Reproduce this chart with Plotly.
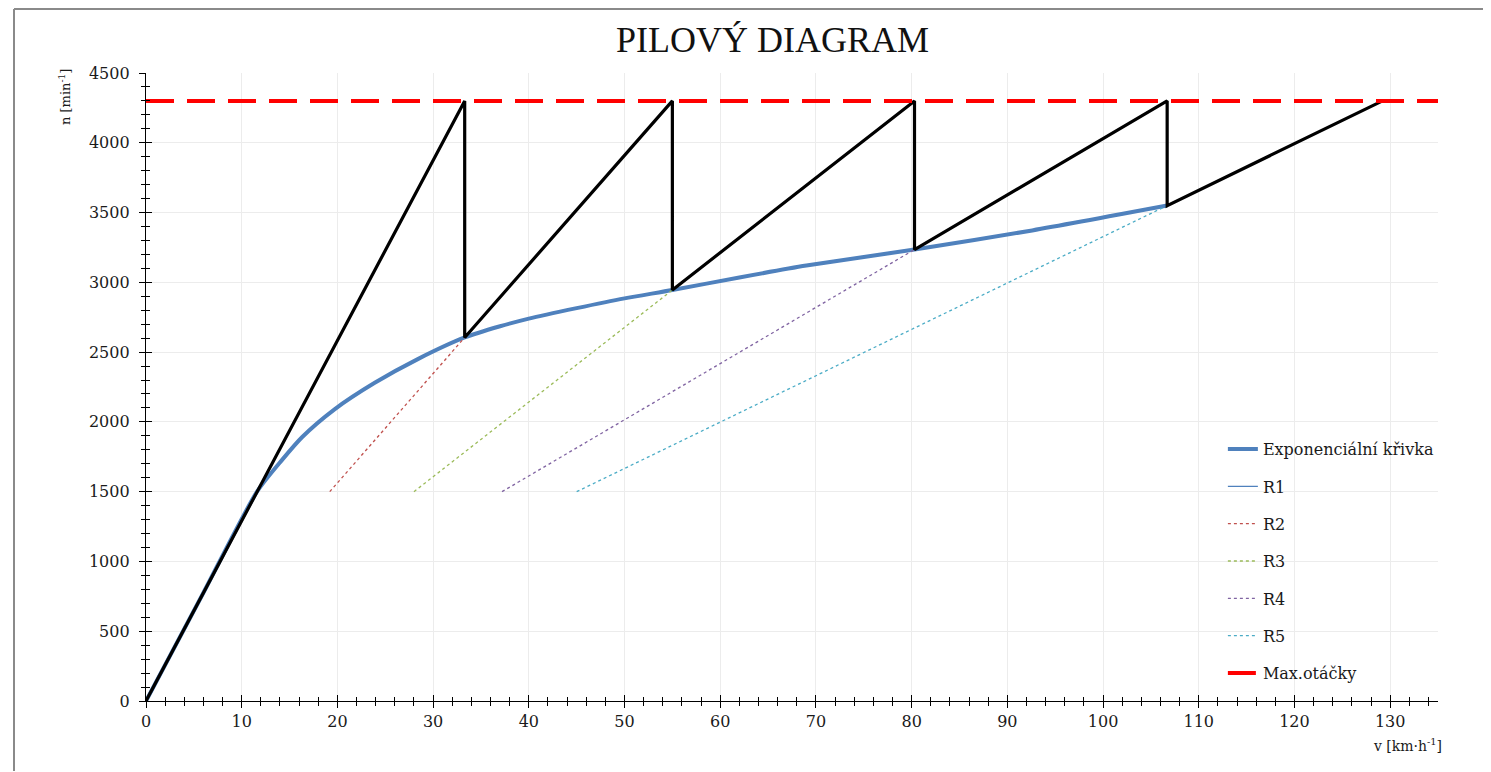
import plotly.graph_objects as go

# ---- data ----
exp_v = [0, 6.0, 11.6, 14.2, 16.3, 19.7, 23.9, 28.4, 33.3, 37.0, 40.0, 45.0, 50.0, 55.0, 62.0, 69.0, 80.3, 92.6, 106.7]
exp_n = [0, 776, 1500, 1726, 1890, 2090, 2280, 2450, 2605, 2685, 2740, 2815, 2885, 2945, 3035, 3120, 3235, 3372, 3550]

r1_v = [0, 11.6]
r1_n = [0, 1500]
r2_v = [19.2, 33.3]
r2_n = [1500, 2605]
r3_v = [28.0, 55.0]
r3_n = [1500, 2945]
r4_v = [37.2, 80.3]
r4_n = [1500, 3235]
r5_v = [45.0, 106.7]
r5_n = [1500, 3550]

saw_v = [0, 33.3, 33.3, 55.0, 55.0, 80.3, 80.3, 106.7, 106.7, 129.2]
saw_n = [0, 4300, 2605, 4300, 2945, 4300, 3235, 4300, 3550, 4300]

max_v = [0, 135]
max_n = [4300, 4300]

x_ticks = list(range(0, 140, 10))
y_ticks = list(range(0, 5000, 500))

FONT = "DejaVu Serif"

fig = go.Figure()

fig.add_trace(go.Scatter(x=exp_v, y=exp_n, mode="lines", name="Exponenciální křivka",
                         line=dict(color="#4F81BD", width=4, shape="spline", smoothing=0.7),
                         legendgroup="g0"))
fig.add_trace(go.Scatter(x=r1_v, y=r1_n, mode="lines", name="R1",
                         line=dict(color="#4F81BD", width=1.2), legendgroup="g1"))
dash_cols = ["#C0504D", "#9BBB59", "#8064A2", "#4BACC6"]
for i, (vv, nn) in enumerate([(r2_v, r2_n), (r3_v, r3_n), (r4_v, r4_n), (r5_v, r5_n)]):
    fig.add_trace(go.Scatter(x=vv, y=nn, mode="lines", name=f"R{i+2}",
                             line=dict(color=dash_cols[i], width=1.3, dash="3px,3px"),
                             legendgroup=f"g{i+2}"))
fig.add_trace(go.Scatter(x=saw_v, y=saw_n, mode="lines", showlegend=False,
                         line=dict(color="black", width=3.2)))
fig.add_trace(go.Scatter(x=max_v, y=max_n, mode="lines", name="Max.otáčky",
                         line=dict(color="#FF0000", width=4, dash="28px,13px"),
                         legendgroup="g6"))
# invisible trace to activate overlay axes (for crossing ticks)
fig.add_trace(go.Scatter(x=[None], y=[None], xaxis="x2", yaxis="y2", showlegend=False,
                         hoverinfo="skip"))

tickfont = dict(family=FONT, size=16, color="#1a1a1a")

fig.update_layout(
    width=1483, height=764,
    margin=dict(l=138, r=53, t=65, b=71),
    paper_bgcolor="white", plot_bgcolor="white",
    showlegend=True,
    legend=dict(x=0.8335, y=0.428, xanchor="left", yanchor="top",
                font=dict(family=FONT, size=16, color="#1a1a1a"),
                tracegroupgap=13.5, traceorder="grouped", bgcolor="rgba(0,0,0,0)"),
    xaxis=dict(range=[0, 135], tickvals=x_ticks, ticks="outside", ticklen=6, tickwidth=1.3,
               tickcolor="black", showline=True, linecolor="black", linewidth=1.3,
               showgrid=True, gridcolor="#ECECEC", gridwidth=1, zeroline=False,
               tickfont=tickfont,
               minor=dict(dtick=2, ticks="outside", ticklen=4, tickwidth=1.2, tickcolor="black",
                          showgrid=False)),
    yaxis=dict(range=[0, 4500], tickvals=y_ticks, ticks="outside", ticklen=6, tickwidth=1.3,
               tickcolor="black", showline=True, linecolor="black", linewidth=1.3,
               showgrid=True, gridcolor="#ECECEC", gridwidth=1, zeroline=False,
               tickfont=tickfont, ticklabelstandoff=6,
               minor=dict(dtick=100, ticks="outside", ticklen=4, tickwidth=1.2, tickcolor="black",
                          showgrid=False)),
    xaxis2=dict(range=[0, 135], overlaying="x", anchor="y2", side="bottom",
                tickvals=x_ticks, ticks="inside", ticklen=6, tickwidth=1.3, tickcolor="black",
                showticklabels=False, showgrid=False, showline=False, zeroline=False,
                minor=dict(dtick=2, ticks="inside", ticklen=4, tickwidth=1.2, tickcolor="black",
                           showgrid=False)),
    yaxis2=dict(range=[0, 4500], overlaying="y", anchor="x2", side="left",
                tickvals=y_ticks, ticks="inside", ticklen=6, tickwidth=1.3, tickcolor="black",
                showticklabels=False, showgrid=False, showline=False, zeroline=False,
                minor=dict(dtick=100, ticks="inside", ticklen=4, tickwidth=1.2, tickcolor="black",
                           showgrid=False)),
)

# plot area spans px 146..1438 (x) and 73..701 (y) on the page
def px_x(p):
    return (p - 146) / 1292

def px_y(p):
    return (701 - p) / 628

# title
fig.add_annotation(text="PILOVÝ DIAGRAM", xref="paper", yref="paper",
                   x=px_x(772), y=px_y(40), xanchor="center", yanchor="middle",
                   showarrow=False, font=dict(family="Liberation Serif", size=36, color="#111"))
# axis titles
fig.add_annotation(text="n [min<sup>-1</sup>]", xref="paper", yref="paper",
                   x=px_x(65), y=px_y(97), xanchor="center", yanchor="middle",
                   textangle=-90, showarrow=False, font=dict(family=FONT, size=13, color="#1a1a1a"))
fig.add_annotation(text="v [km·h<sup>-1</sup>]", xref="paper", yref="paper",
                   x=px_x(1407), y=px_y(745), xanchor="center", yanchor="middle",
                   showarrow=False, font=dict(family=FONT, size=14, color="#1a1a1a"))

# outer chart-area border
fig.add_shape(type="line", xref="paper", yref="paper",
              x0=px_x(14), x1=px_x(1490), y0=px_y(9), y1=px_y(9),
              line=dict(color="#8a8a8a", width=2))
fig.add_shape(type="line", xref="paper", yref="paper",
              x0=px_x(14), x1=px_x(14), y0=px_y(9), y1=px_y(771),
              line=dict(color="#8a8a8a", width=2))

fig.write_html("out.html")
